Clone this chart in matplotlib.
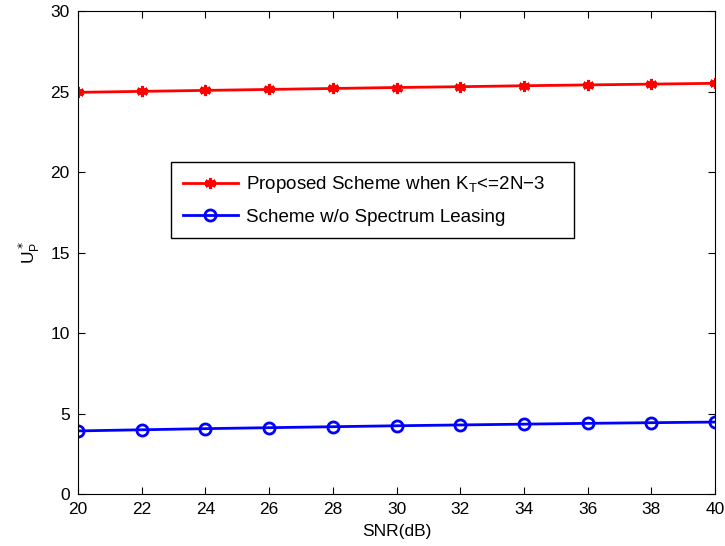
import numpy as np
import matplotlib.pyplot as plt

plt.rcParams['font.family'] = ['Liberation Sans', 'DejaVu Sans']

# Data
snr = [20, 22, 24, 26, 28, 30, 32, 34, 36, 38, 40]
proposed = [24.95, 25.01, 25.07, 25.13, 25.19, 25.25, 25.30, 25.36, 25.41, 25.46, 25.51]
no_leasing = [3.92, 3.99, 4.06, 4.12, 4.18, 4.24, 4.29, 4.34, 4.39, 4.43, 4.47]

fig = plt.figure(figsize=(7.25, 5.46), dpi=100)
ax = fig.add_axes([0.1076, 0.0952, 0.8786, 0.8846])

ax.plot(snr, proposed, color='red', linewidth=2, marker=(6, 2, 0), markersize=8,
        markeredgewidth=2.2, label='Proposed Scheme when K$_\\mathregular{T}$<=2N\u22123    ')
ax.plot(snr, no_leasing, color='blue', linewidth=2, marker='o', markersize=8,
        markerfacecolor='none', markeredgewidth=2, label='Scheme w/o Spectrum Leasing')

ax.set_xlim(20, 40)
ax.set_ylim(0, 30)
ax.set_xticks(range(20, 41, 2))
ax.set_yticks(range(0, 31, 5))
ax.tick_params(direction='in', labelsize=12.5, top=True, right=True, length=5, pad=6)
ax.set_xlabel('SNR(dB)', fontsize=12.5, labelpad=5)
ax.set_ylabel('U$_\\mathregular{P}^*$', fontsize=12.5, labelpad=6)

leg = ax.legend(loc='upper left', bbox_to_anchor=(0.146, 0.687), borderaxespad=0,
                fontsize=13.5, fancybox=False, edgecolor='black', framealpha=1,
                handlelength=2.9, labelspacing=0.7, borderpad=0.65, handletextpad=0.45)
leg.get_frame().set_linewidth(1)

fig.savefig('out.png', dpi=100)
